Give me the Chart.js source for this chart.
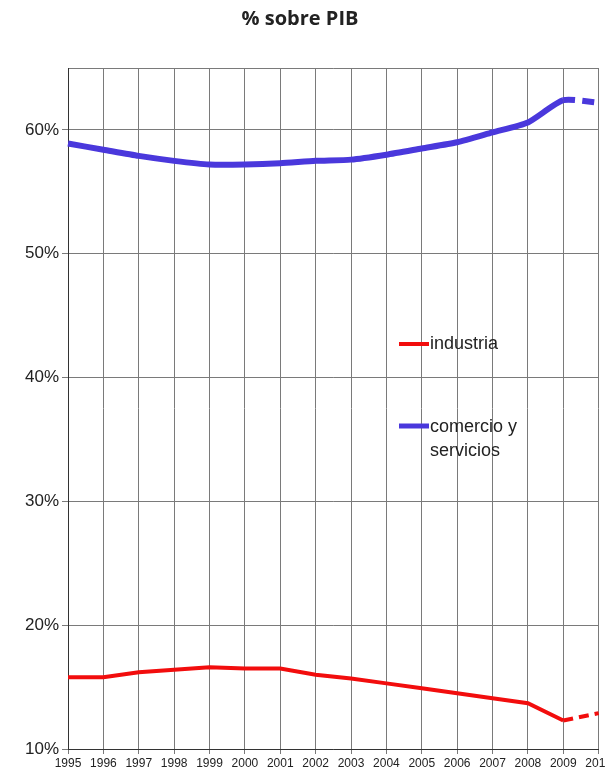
<!DOCTYPE html>
<html>
<head>
<meta charset="utf-8">
<title>% sobre PIB</title>
<script src="https://cdn.jsdelivr.net/npm/chart.js@4.4.1/dist/chart.umd.min.js"></script>
<style>
  html, body { margin: 0; padding: 0; background: #fff; overflow: hidden; }
  #wrap { position: relative; width: 614px; height: 771px; }
</style>
</head>
<body>
<div id="wrap"><canvas id="chartPIB"></canvas></div>
<script>
// Años y porcentajes sobre el PIB
var YEARS = ['1995', '1996', '1997', '1998', '1999', '2000', '2001', '2002',
             '2003', '2004', '2005', '2006', '2007', '2008', '2009', '2010'];
var INDUSTRIA = [15.8, 15.8, 16.2, 16.4, 16.6, 16.5, 16.5, 16.0,
                 15.7, 15.3, 14.9, 14.5, 14.1, 13.7, 12.3, 12.9];
var SERVICIOS = [58.9, 58.4, 57.9, 57.5, 57.2, 57.2, 57.3, 57.5,
                 57.6, 58.0, 58.5, 59.0, 59.8, 60.6, 62.4, 62.2];
var LABELS = ['industria', 'comercio y servicios'];
var TITLE = '% sobre PIB';

var RED = '#f20d0d';
var BLUE = '#4a38dc';
var GRID = '#7a7a7a';

// Último tramo (estimación) en discontinua
function dashLast(pattern) {
    return function (ctx) {
        return ctx.p1DataIndex === YEARS.length - 1 ? pattern : undefined;
    };
}

// Título y leyenda dibujados sobre el lienzo
var overlay = {
    id: 'overlay',
    afterDraw: function (chart) {
        var c = chart.ctx;
        c.save();
        c.fillStyle = '#222';
        c.font = 'bold 20px "Open Sans", sans-serif';
        c.textAlign = 'center';
        c.textBaseline = 'middle';
        c.fillText(TITLE, 300, 19);

        c.lineCap = 'butt';
        c.strokeStyle = RED;
        c.lineWidth = 4;
        c.beginPath(); c.moveTo(399, 344); c.lineTo(429, 344); c.stroke();
        c.strokeStyle = BLUE;
        c.lineWidth = 5;
        c.beginPath(); c.moveTo(399, 426); c.lineTo(429, 426); c.stroke();

        c.fillStyle = '#222';
        c.font = '18px "Liberation Sans", Arial, sans-serif';
        c.textAlign = 'left';
        c.fillText(LABELS[0], 430, 344);
        c.fillText('comercio y', 430, 427);
        c.fillText('servicios', 430, 451);
        c.restore();
    }
};

new Chart(document.getElementById('chartPIB'), {
    type: 'line',
    data: {
        labels: YEARS,
        datasets: [{
            label: LABELS[0],
            data: INDUSTRIA,
            borderColor: RED,
            borderWidth: 4,
            pointRadius: 0,
            tension: 0,
            segment: { borderDash: dashLast([10, 6]) }
        }, {
            label: LABELS[1],
            data: SERVICIOS,
            borderColor: BLUE,
            borderWidth: 6,
            pointRadius: 0,
            tension: 0.2,
            segment: { borderDash: dashLast([12, 7]) }
        }]
    },
    options: {
        responsive: true,
        maintainAspectRatio: false,
        animation: false,
        layout: { padding: { top: 68, left: 0, right: 0, bottom: 0 } },
        plugins: {
            legend: { display: false },
            tooltip: { enabled: false }
        },
        scales: {
            x: {
                offset: false,
                grid: { color: GRID, lineWidth: 1, tickLength: 5 },
                border: { color: '#333' },
                ticks: {
                    color: '#222',
                    autoSkip: false,
                    maxRotation: 0,
                    padding: 2,
                    font: { family: '"Liberation Sans", Arial, sans-serif', size: 12 }
                },
                afterFit: function (s) { s.height = 22; }
            },
            y: {
                min: 10,
                max: 65,
                grid: {
                    color: GRID,
                    lineWidth: 1,
                    tickLength: 6,
                    tickColor: function (ctx) {
                        return ctx.tick && ctx.tick.value === 65 ? 'rgba(0,0,0,0)' : GRID;
                    }
                },
                border: { color: '#333' },
                ticks: {
                    stepSize: 10,
                    color: '#222',
                    padding: 3,
                    font: { family: '"Liberation Sans", Arial, sans-serif', size: 17 },
                    callback: function (v) { return v % 10 === 0 ? v + '%' : ''; }
                },
                afterFit: function (s) { s.width = 68; }
            }
        }
    },
    plugins: [overlay]
});
</script>
</body>
</html>
